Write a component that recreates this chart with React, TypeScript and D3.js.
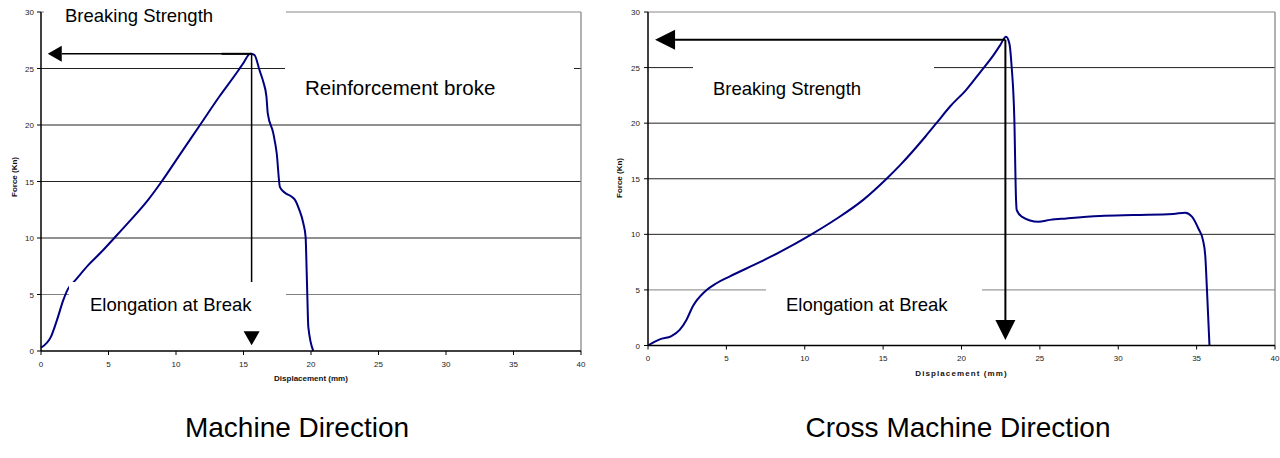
import React from "react";
import * as d3 from "d3";

// ---------- data ----------
const mdDisp = [0, 0.75, 1.2, 1.65, 2.0, 2.5, 3.5, 4.5, 5.43, 6.5, 7.95, 8.94, 10.3, 11.78, 13.2, 14.6, 15.0, 15.5, 15.8, 16.2, 16.47, 16.7, 16.8, 17.2, 17.46, 17.7, 18.07, 18.57, 18.8, 19.1, 19.43, 19.6, 19.68, 19.73, 19.8, 20.17];
const mdForce = [0.3, 1.3, 2.8, 4.5, 5.5, 6.2, 7.6, 8.8, 10, 11.4, 13.4, 15, 17.4, 20, 22.5, 24.8, 25.5, 26.3, 26.2, 24.8, 23.8, 22.5, 21, 19.3, 17.5, 14.5, 14, 13.65, 13.4, 12.6, 11.3, 10.1, 7, 4.8, 2.15, 0];

const cmdDisp = [0, 0.75, 1.5, 2.02, 2.45, 2.87, 3.62, 4.37, 5.2, 7.13, 8.4, 10.43, 12.03, 13.73, 15.22, 16.07, 17.7, 18.4, 19.27, 20.3, 21.2, 22.03, 22.46, 22.84, 23.05, 23.2, 23.37, 23.48, 23.52, 23.84, 24.9, 25.65, 26.7, 28.84, 30.97, 33.5, 34.27, 34.7, 35.12, 35.4, 35.55, 35.66, 35.82];
const cmdForce = [0, 0.55, 0.85, 1.4, 2.3, 3.55, 4.84, 5.6, 6.2, 7.5, 8.4, 10, 11.4, 13.1, 15, 16.2, 18.8, 20, 21.5, 23, 24.6, 26.1, 27.0, 27.77, 27.2, 25.07, 20.4, 13.1, 12.2, 11.6, 11.13, 11.3, 11.43, 11.65, 11.74, 11.83, 11.95, 11.6, 10.5, 9.5, 8.1, 5.0, 0];

const xTicks = [0, 5, 10, 15, 20, 25, 30, 35, 40];
const yTicks = [0, 5, 10, 15, 20, 25, 30];

// annotation values: breaking strength force, elongation at break displacement
const mdBreak = { force: 26.3, disp: 15.6 };
const cmdBreak = { force: 27.5, disp: 22.8 };

const titles = ["Machine Direction", "Cross Machine Direction"];

const FONT = "'Liberation Sans', Arial, Helvetica, sans-serif";

type Box = { x: number; y: number; w: number; h: number; text: string; tx: number; ty: number; fs: number };

type PanelProps = {
  disp: number[];
  force: number[];
  x0: number; x1: number; y0: number; y1: number;
  brk: { force: number; disp: number };
  boxes: Box[];
  arrowTipX: number;
  arrowTipY: number;
  lineW: number;
  thickPeak?: boolean;
  headSize: { len: number; half: number };
  tickLabelX: number;
  xLabelY: number;
  xTitleY: number;
  xTitleSpacing: number;
  yTitleX: number;
  yTitleY: number;
  title: string;
  titleX: number;
};

function Panel(p: PanelProps) {
  const x = d3.scaleLinear().domain([0, 40]).range([p.x0, p.x1]);
  const y = d3.scaleLinear().domain([0, 30]).range([p.y0, p.y1]);
  const pts = p.disp.map((d, i) => [d, p.force[i]] as [number, number]);
  const line = d3
    .line<[number, number]>()
    .x((d) => x(d[0]))
    .y((d) => y(d[1]))
    .curve(d3.curveMonotoneX);

  const px = x(p.brk.disp);
  const py = y(p.brk.force);
  const tipX = x(p.arrowTipX);
  const tipY = y(p.arrowTipY);
  const { len, half } = p.headSize;

  return (
    <g>
      {yTicks.filter((t) => t > 0 && t < 30).map((t) => (
        <line key={t} x1={p.x0} x2={p.x1} y1={y(t)} y2={y(t)} stroke={t === 5 ? "#808080" : "#222"} strokeWidth={1} />
      ))}
      <line x1={p.x0} x2={p.x1} y1={p.y1} y2={p.y1} stroke="#888" strokeWidth={1} />
      <line x1={p.x1} x2={p.x1} y1={p.y1} y2={p.y0} stroke="#888" strokeWidth={1.3} />
      <path d={line(pts) || ""} fill="none" stroke="#000080" strokeWidth={2} />
      <line x1={tipX + len} x2={px} y1={py} y2={py} stroke="#000" strokeWidth={p.lineW} />
      {p.thickPeak && <line x1={px - 30} x2={px} y1={py} y2={py} stroke="#000" strokeWidth={2} />}
      <line x1={px} x2={px} y1={py} y2={tipY - len} stroke="#000" strokeWidth={p.lineW} />
      {p.boxes.map((b, i) => (
        <g key={i}>
          <rect x={b.x} y={b.y} width={b.w} height={b.h} fill="#fff" />
          <text x={b.tx} y={b.ty} fontFamily={FONT} fontSize={b.fs} fill="#000">{b.text}</text>
        </g>
      ))}
      <polygon points={`${tipX},${py} ${tipX + len},${py - half} ${tipX + len},${py + half}`} fill="#000" />
      <polygon points={`${px},${tipY} ${px - half},${tipY - len} ${px + half},${tipY - len}`} fill="#000" />
      <line x1={p.x0} x2={p.x0} y1={p.y1} y2={p.y0} stroke="#000" strokeWidth={1.5} />
      <line x1={p.x0} x2={p.x1} y1={p.y0} y2={p.y0} stroke="#000" strokeWidth={1.5} />
      {yTicks.map((t) => (
        <g key={"y" + t}>
          <line x1={p.x0 - 4} x2={p.x0} y1={y(t)} y2={y(t)} stroke="#000" strokeWidth={1} />
          <text x={p.tickLabelX} y={y(t) + 3} textAnchor="end" fontFamily={FONT} fontSize={8} fill="#222">{t}</text>
        </g>
      ))}
      {xTicks.map((t) => (
        <g key={"x" + t}>
          <line x1={x(t)} x2={x(t)} y1={p.y0} y2={p.y0 + 4} stroke="#000" strokeWidth={1} />
          <text x={x(t)} y={p.xLabelY} textAnchor="middle" fontFamily={FONT} fontSize={8} fill="#222">{t}</text>
        </g>
      ))}
      <text x={(p.x0 + p.x1) / 2} y={p.xTitleY} textAnchor="middle" fontFamily={FONT} fontSize={8} fontWeight="bold" letterSpacing={p.xTitleSpacing} fill="#111">Displacement (mm)</text>
      <text transform={`translate(${p.yTitleX},${p.yTitleY}) rotate(-90)`} textAnchor="middle" fontFamily={FONT} fontSize={8} fontWeight="bold" fill="#111">Force (Kn)</text>
      <text x={p.titleX} y={437} textAnchor="middle" fontFamily={FONT} fontSize={28} fill="#000">{p.title}</text>
    </g>
  );
}

export default function App() {
  return (
    <svg width={1280} height={458} style={{ position: "absolute", left: 0, top: 0, background: "#fff" }}>
      <rect width={1280} height={458} fill="#fff" />
      <Panel
        disp={mdDisp}
        force={mdForce}
        x0={41} x1={581} y0={351} y1={12}
        brk={mdBreak}
        boxes={[
          { x: 44, y: 0, w: 242, h: 32, text: "Breaking Strength", tx: 65, ty: 21.5, fs: 18.5 },
          { x: 285, y: 62, w: 289, h: 54, text: "Reinforcement broke", tx: 305, ty: 95, fs: 20.5 },
          { x: 69, y: 282, w: 217, h: 58, text: "Elongation at Break", tx: 90, ty: 310.5, fs: 18.5 },
        ]}
        arrowTipX={0.5}
        arrowTipY={0.5}
        lineW={1.5}
        thickPeak
        headSize={{ len: 14, half: 8 }}
        tickLabelX={34}
        xLabelY={367}
        xTitleY={381}
        xTitleSpacing={0}
        yTitleX={17}
        yTitleY={177}
        title={titles[0]}
        titleX={297}
      />
      <Panel
        disp={cmdDisp}
        force={cmdForce}
        x0={648} x1={1275} y0={345.5} y1={12}
        brk={cmdBreak}
        boxes={[
          { x: 693, y: 62, w: 241, h: 54, text: "Breaking Strength", tx: 713, ty: 94.5, fs: 18.5 },
          { x: 766, y: 280, w: 216, h: 56, text: "Elongation at Break", tx: 786, ty: 310.5, fs: 18.5 },
        ]}
        arrowTipX={0.45}
        arrowTipY={0.5}
        lineW={2}
        headSize={{ len: 20, half: 10 }}
        tickLabelX={640}
        xLabelY={361}
        xTitleY={376}
        xTitleSpacing={1.1}
        yTitleX={622}
        yTitleY={178}
        title={titles[1]}
        titleX={958}
      />
    </svg>
  );
}
